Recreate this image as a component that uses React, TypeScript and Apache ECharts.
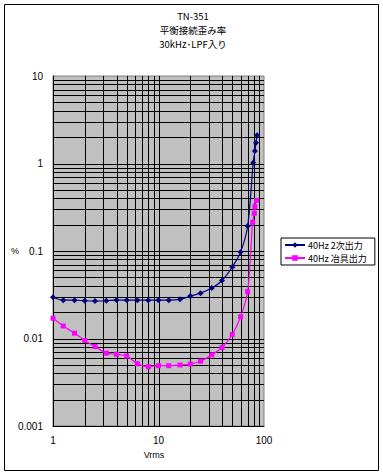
import React, { useEffect, useRef } from "react";
import * as echarts from "echarts";

const titleLines = ["TN-351", "平衡接続歪み率", "30kHz･LPF入り"];
const seriesNames = ["40Hz 2次出力", "40Hz 冶具出力"];
const xTickLabels = ["1", "10", "100"];
const yTickLabels = ["0.001", "0.01", "0.1", "1", "10"];

const blueX = [1, 1.25, 1.6, 2, 2.5, 3.2, 4, 5, 6.3, 8, 10, 12.5, 16, 20, 25, 32, 40, 50, 60, 70, 79, 82, 84, 86];
const blueY = [0.0296, 0.0274, 0.0274, 0.027, 0.0268, 0.027, 0.0275, 0.0274, 0.0274, 0.0274, 0.0274, 0.0274, 0.028, 0.0305, 0.033, 0.0378, 0.046, 0.0657, 0.0975, 0.193, 1.02, 1.39, 1.73, 2.1];

const pinkX = [1, 1.25, 1.6, 2, 2.5, 3.2, 4, 5, 6.3, 8, 10, 12.5, 16, 20, 25, 32, 40, 50, 60, 70, 78, 81, 82, 85];
const pinkY = [0.017, 0.0139, 0.0115, 0.0095, 0.0081, 0.0068, 0.0066, 0.0063, 0.00515, 0.00476, 0.00489, 0.00489, 0.00498, 0.0051, 0.0055, 0.0065, 0.0079, 0.0111, 0.0177, 0.0343, 0.213, 0.27, 0.321, 0.379];

const xDecades = [1, 10];
const yDecades = [0.001, 0.01, 0.1, 1];
const steps = [1, 2, 3, 4, 5, 6, 7, 8, 9];

const JP = '"Noto Sans CJK JP", "Noto Sans", sans-serif';
const NUM = '"Liberation Sans", Arial, sans-serif';

export default function App() {
  const ref = useRef<HTMLDivElement>(null);
  useEffect(() => {
    if (!ref.current) return;
    const chart = echarts.init(ref.current, null, { renderer: "svg" });

    const gridData: number[][] = [];
    xDecades.forEach((d) =>
      steps.forEach((s) => {
        const v = d * s;
        if (v > 1 && v < 100) gridData.push([v, 1, 0]);
      })
    );
    yDecades.forEach((d) =>
      steps.forEach((s) => {
        const v = d * s;
        if (v > 0.001 && v < 10) gridData.push([1, v, 1]);
      })
    );

    const option: any = {
      animation: false,
      grid: {
        left: 53,
        top: 76,
        width: 211,
        height: 350,
        show: true,
        backgroundColor: "#C0C0C0",
        borderColor: "#808080",
        borderWidth: 1,
      },
      xAxis: {
        type: "log",
        logBase: 10,
        min: 1,
        max: 100,
        axisLine: { show: true, lineStyle: { color: "#000", width: 1 } },
        axisTick: { show: false },
        splitLine: { show: false },
        axisLabel: {
          fontSize: 10,
          fontFamily: NUM,
          color: "#000",
          margin: 9,
          formatter: (v: number) => xTickLabels[Math.round(Math.log10(v))],
        },
      },
      yAxis: {
        type: "log",
        logBase: 10,
        min: 0.001,
        max: 10,
        axisLine: { show: true, lineStyle: { color: "#000", width: 1 } },
        axisTick: { show: false },
        splitLine: { show: false },
        axisLabel: {
          fontSize: 10,
          fontFamily: NUM,
          color: "#000",
          margin: 10,
          formatter: (v: number) => yTickLabels[Math.round(Math.log10(v)) + 3],
        },
      },
      legend: {
        orient: "vertical",
        left: 281,
        top: 238,
        data: seriesNames,
        backgroundColor: "#fff",
        borderColor: "#000",
        borderWidth: 1,
        borderRadius: 0,
        padding: [1, 8, 1, 3],
        itemGap: 1,
        itemWidth: 20,
        itemHeight: 7,
        textStyle: { fontSize: 9, fontFamily: JP, color: "#000", lineHeight: 12, padding: [0, 0, 0, -2] },
      },
      graphic: [
        {
          type: "rect",
          shape: { x: 4.5, y: 4.5, width: 374, height: 466 },
          style: { fill: "none", stroke: "#000", lineWidth: 1 },
          silent: true,
        },
        ...titleLines.map((t, i) => ({
          type: "text",
          x: 193,
          y: [16, 30, 44][i],
          style: {
            text: t,
            fontSize: 9.5,
            lineHeight: 12,
            fontFamily: JP,
            fill: "#000",
            textAlign: "center",
            textVerticalAlign: "middle",
          },
          silent: true,
        })),
        {
          type: "text",
          x: 15,
          y: 251,
          style: { text: "%", fontSize: 9, fontFamily: NUM, fill: "#000", textAlign: "center", textVerticalAlign: "middle" },
        },
        {
          type: "text",
          x: 154,
          y: 455,
          style: { text: "Vrms", fontSize: 9, fontFamily: NUM, fill: "#000", textAlign: "center", textVerticalAlign: "middle" },
        },
      ],
      series: [
        {
          type: "custom",
          name: "grid-lines",
          silent: true,
          z: 1,
          clip: false,
          encode: { x: 0, y: 1 },
          data: gridData,
          renderItem: (params: any, api: any) => {
            const v0 = api.value(0);
            const v1 = api.value(1);
            const vertical = api.value(2) === 0;
            let p1, p2;
            if (vertical) {
              p1 = api.coord([v0, 10]);
              p2 = api.coord([v0, 0.001]);
              const x = Math.round(p1[0]) + 0.5;
              return {
                type: "line",
                shape: { x1: x, y1: p1[1], x2: x, y2: p2[1] },
                style: { stroke: "#000", lineWidth: 1 },
              };
            } else {
              p1 = api.coord([1, v1]);
              p2 = api.coord([100, v1]);
              const y = Math.round(p1[1]) + 0.5;
              return {
                type: "line",
                shape: { x1: p1[0], y1: y, x2: p2[0], y2: y },
                style: { stroke: "#000", lineWidth: 1 },
              };
            }
          },
        },
        {
          type: "line",
          name: seriesNames[0],
          data: blueX.map((x, i) => [x, blueY[i]]),
          smooth: 0.3,
          symbol: "diamond",
          symbolSize: 6,
          z: 3,
          lineStyle: { color: "#000080", width: 1.2 },
          itemStyle: { color: "#000080" },
        },
        {
          type: "line",
          name: seriesNames[1],
          data: pinkX.map((x, i) => [x, pinkY[i]]),
          smooth: 0.3,
          symbol: "rect",
          symbolSize: 5,
          z: 4,
          lineStyle: { color: "#FF00FF", width: 1.2 },
          itemStyle: { color: "#FF00FF" },
        },
      ],
    };
    chart.setOption(option);
    return () => chart.dispose();
  }, []);
  return (
    <div
      ref={ref}
      style={{ position: "absolute", left: 0, top: 0, width: 383, height: 475, background: "#fff" }}
    />
  );
}
